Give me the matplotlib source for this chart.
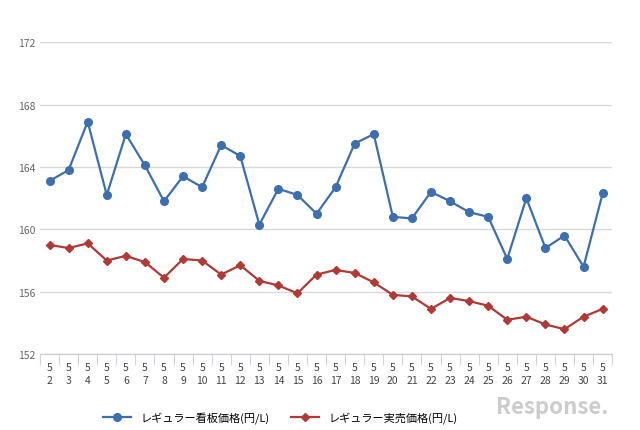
import matplotlib.pyplot as plt

days = list(range(2, 32))
kanban = [163.1, 163.8, 166.9, 162.2, 166.1, 164.1, 161.8, 163.4, 162.7, 165.4,
          164.7, 160.3, 162.6, 162.2, 161.0, 162.7, 165.5, 166.1, 160.8, 160.7,
          162.4, 161.8, 161.1, 160.8, 158.1, 162.0, 158.8, 159.6, 157.6, 162.3]
jitsubai = [159.0, 158.8, 159.1, 158.0, 158.3, 157.9, 156.9, 158.1, 158.0, 157.1,
            157.7, 156.7, 156.4, 155.9, 157.1, 157.4, 157.2, 156.6, 155.8, 155.7,
            154.9, 155.6, 155.4, 155.1, 154.2, 154.4, 153.9, 153.6, 154.4, 154.9]
labels = [f"5\n{d}" for d in days]

plt.rcParams['font.family'] = ['Noto Sans CJK JP']
fig = plt.figure(figsize=(6.4, 4.31), dpi=100)
ax = fig.add_axes([0.0625, 0.176, 0.894, 0.724])
x = list(range(len(days)))
ax.plot(x, kanban, color='#3d6faf', marker='o', markersize=5.5, lw=1.6, label='レギュラー看板価格(円/L)')
ax.plot(x, jitsubai, color='#b03a36', marker='D', markersize=4, lw=1.6, label='レギュラー実売価格(円/L)')
ax.set_xlim(-0.5, len(days) - 0.5)
ax.set_ylim(152, 172)
ax.set_yticks([152, 156, 160, 164, 168, 172])
ax.yaxis.grid(True, color='#d8d8d8', lw=1)
ax.set_axisbelow(True)
ax.set_xticks(x)
ax.set_xticklabels(labels, fontsize=7.5, color='#444444', linespacing=1.3)
ax.set_xticks([i - 0.5 for i in range(len(days) + 1)], minor=True)
ax.tick_params(axis='x', which='major', length=0, pad=6)
ax.tick_params(axis='x', which='minor', length=8, color='#c8c8d8')
ax.tick_params(axis='y', length=0, labelsize=7.5, labelcolor='#666666')
for s in ['top', 'right', 'left']:
    ax.spines[s].set_visible(False)
ax.spines['bottom'].set_color('#c8c8d8')
ax.legend(loc='upper center', bbox_to_anchor=(0.42, -0.15), ncol=2, frameon=False,
          fontsize=8, handlelength=2.5, columnspacing=2)
fig.text(0.95, 0.04, 'Response.', ha='right', fontsize=16, color='#cccccc', style='italic', weight='bold')
fig.savefig('out.png')
